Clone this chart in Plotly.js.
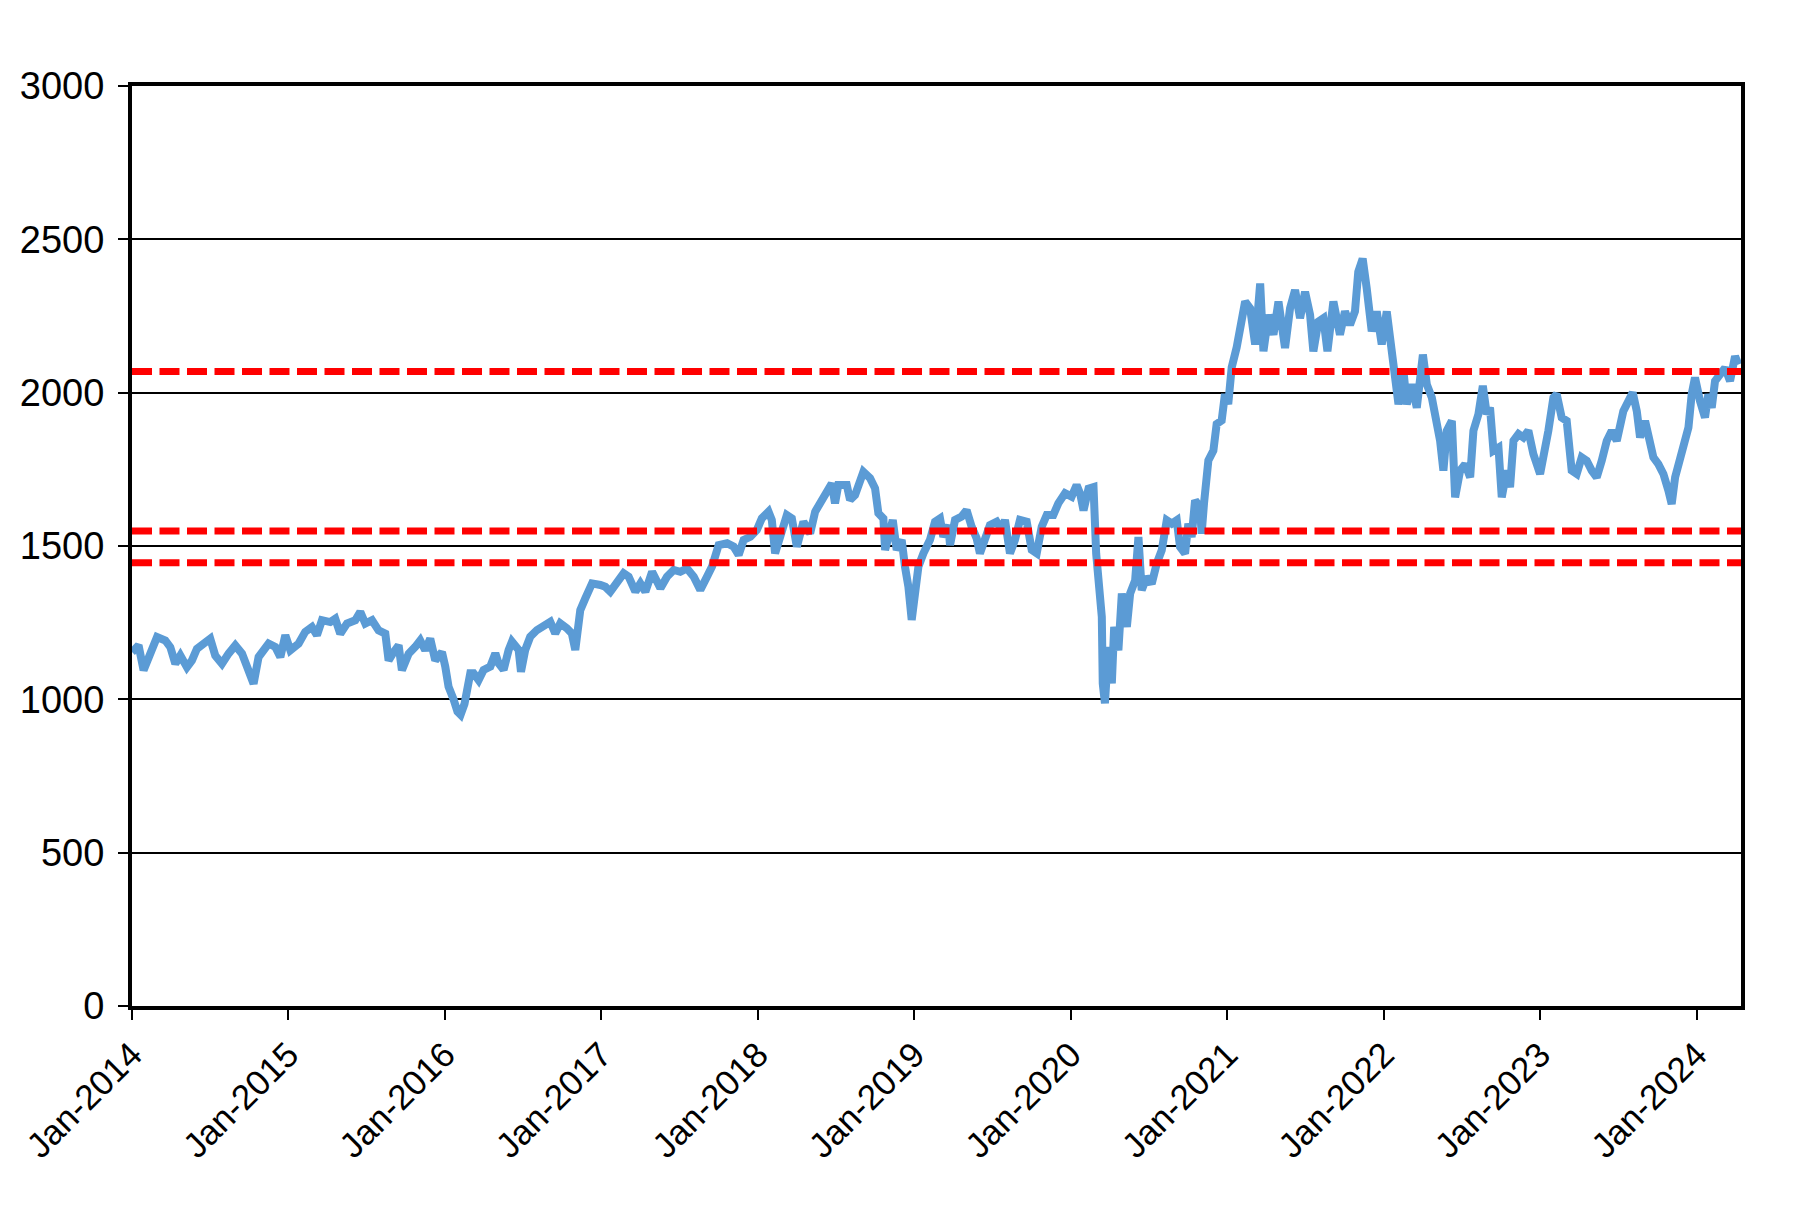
<!DOCTYPE html>
<html>
<head>
<meta charset="utf-8">
<script src="https://cdn.plot.ly/plotly-3.0.1.min.js"></script>
<style>html,body{margin:0;padding:0;background:#fff;}#chart{width:1797px;height:1208px;}</style>
</head>
<body>
<div id="chart"></div>
<script>
// Dates as decimal years
const years = [
2014.000,2014.042,2014.074,2014.106,2014.160,2014.213,2014.245,2014.277,2014.309,2014.351,2014.383,2014.415,2014.468,2014.500,2014.532,2014.575,2014.617,2014.660,2014.703,2014.745,2014.777,2014.809,2014.873,2014.916,2014.948,2014.980,
2015.012,2015.065,2015.107,2015.150,2015.182,2015.214,2015.267,2015.299,2015.331,2015.374,2015.427,2015.459,2015.491,2015.534,2015.576,2015.619,2015.640,2015.672,2015.704,2015.725,2015.768,2015.810,2015.842,2015.874,2015.906,2015.938,2015.981,
2016.002,2016.023,2016.055,2016.080,2016.100,2016.125,2016.162,2016.183,2016.215,2016.247,2016.290,2016.322,2016.343,2016.375,2016.407,2016.428,2016.471,2016.486,2016.513,2016.545,2016.588,2016.631,2016.673,2016.705,2016.737,2016.779,2016.811,2016.833,2016.865,2016.897,2016.940,2016.993,
2017.025,2017.057,2017.100,2017.142,2017.174,2017.217,2017.249,2017.281,2017.324,2017.377,2017.419,2017.462,2017.504,2017.547,2017.590,2017.632,2017.675,2017.707,2017.749,2017.803,2017.845,2017.877,2017.909,2017.952,2017.993,
2018.025,2018.068,2018.089,2018.110,2018.142,2018.185,2018.217,2018.249,2018.291,2018.334,2018.366,2018.408,2018.451,2018.472,2018.493,2018.514,2018.568,2018.589,2018.621,2018.653,2018.674,2018.717,2018.749,2018.770,2018.802,2018.813,2018.834,2018.862,2018.887,2018.919,2018.940,2018.962,2018.983,
2019.004,2019.026,2019.058,2019.100,2019.132,2019.164,2019.185,2019.217,2019.228,2019.260,2019.302,2019.334,2019.366,2019.398,2019.419,2019.451,2019.483,2019.526,2019.558,2019.579,2019.611,2019.643,2019.675,2019.718,2019.750,2019.782,2019.814,2019.846,2019.888,2019.920,2019.963,
2020.005,2020.037,2020.060,2020.081,2020.113,2020.145,2020.162,2020.183,2020.198,2020.204,2020.218,2020.240,2020.262,2020.277,2020.304,2020.326,2020.358,2020.379,2020.411,2020.432,2020.453,2020.485,2020.517,2020.549,2020.581,2020.613,2020.645,2020.677,2020.698,2020.730,2020.751,2020.772,2020.794,2020.826,2020.836,2020.851,2020.879,2020.911,2020.932,2020.964,2020.985,
2021.006,2021.028,2021.060,2021.081,2021.102,2021.114,2021.146,2021.178,2021.210,2021.231,2021.263,2021.295,2021.327,2021.369,2021.401,2021.433,2021.465,2021.497,2021.529,2021.550,2021.582,2021.614,2021.640,2021.678,2021.720,2021.752,2021.784,2021.816,2021.837,2021.865,2021.891,2021.923,2021.955,2021.987,
2022.019,2022.051,2022.073,2022.094,2022.126,2022.147,2022.179,2022.211,2022.250,2022.275,2022.307,2022.339,2022.360,2022.381,2022.403,2022.435,2022.456,2022.488,2022.520,2022.552,2022.573,2022.605,2022.633,2022.658,2022.679,2022.701,2022.733,2022.754,2022.786,2022.807,2022.829,2022.861,2022.892,2022.924,2022.956,2022.999,
2023.031,2023.052,2023.084,2023.105,2023.137,2023.169,2023.201,2023.233,2023.265,2023.297,2023.329,2023.361,2023.393,2023.425,2023.457,2023.489,2023.531,2023.563,2023.591,2023.617,2023.638,2023.670,2023.691,2023.723,2023.755,2023.787,2023.819,2023.840,2023.862,2023.894,2023.925,2023.947,2023.968,2023.989,
2024.021,2024.053,2024.074,2024.096,2024.117,2024.149,2024.181,2024.213,2024.245,2024.266
];
const values = [
1154,1176,1095,1138,1203,1192,1170,1116,1143,1105,1127,1165,1187,1198,1143,1116,1149,1176,1149,1100,1051,1138,1182,1171,1138,1209,
1160,1182,1220,1236,1209,1258,1252,1263,1214,1247,1258,1285,1247,1258,1225,1214,1127,1154,1176,1095,1149,1171,1192,1160,1198,1127,1154,
1107,1041,1000,960,950,985,1085,1085,1063,1096,1107,1150,1117,1096,1161,1188,1161,1090,1161,1204,1226,1237,1253,1215,1248,1232,1215,1161,1291,1329,1378,1373,
1367,1351,1378,1411,1400,1351,1378,1351,1416,1362,1400,1422,1416,1427,1400,1357,1400,1433,1503,1509,1498,1471,1520,1530,1552,
1590,1612,1585,1476,1530,1601,1590,1498,1579,1541,1612,1645,1677,1704,1639,1699,1699,1650,1666,1726,1742,1721,1688,1607,1590,1487,1541,1585,1487,1520,1433,1367,1259,
1335,1433,1476,1520,1579,1590,1530,1568,1503,1585,1596,1617,1563,1525,1476,1530,1568,1579,1552,1585,1476,1520,1585,1579,1487,1476,1563,1601,1601,1639,1672,
1661,1699,1670,1616,1687,1692,1475,1323,1269,1052,987,1171,1052,1236,1160,1345,1236,1345,1388,1529,1356,1399,1377,1443,1486,1584,1573,1584,1497,1475,1573,1529,1649,1627,1540,1638,1779,1811,1898,1909,1996,
1963,2082,2148,2202,2289,2297,2275,2157,2356,2135,2254,2189,2297,2146,2275,2335,2243,2329,2254,2135,2232,2243,2135,2297,2189,2265,2221,2265,2394,2437,2340,2200,2265,2157,
2265,2124,2005,1962,2070,1962,2027,1951,2124,2027,1984,1897,1843,1746,1876,1908,1659,1746,1767,1724,1876,1930,2022,1930,1951,1811,1821,1659,1746,1692,1843,1865,1854,1876,1800,1735,
1811,1876,1984,1995,1919,1908,1746,1735,1789,1778,1746,1724,1778,1843,1876,1843,1940,1973,2000,1940,1854,1908,1865,1789,1767,1735,1681,1637,1724,1789,1843,1886,1995,2049,
1973,1919,1995,1951,2038,2060,2081,2038,2119,2092
];
// Horizontal reference levels (red dashed lines)
const levels = [2069, 1549, 1445];
// Axis
const xStart = 2014.0, xEnd = 2024.283;
const tickYears = [2014,2015,2016,2017,2018,2019,2020,2021,2022,2023,2024];
const tickLabels = ["Jan-2014","Jan-2015","Jan-2016","Jan-2017","Jan-2018","Jan-2019","Jan-2020","Jan-2021","Jan-2022","Jan-2023","Jan-2024"];
const yTicks = [0,500,1000,1500,2000,2500,3000];

const traces = [{
  x: years, y: values, type: 'scatter', mode: 'lines',
  line: {color: '#5B9BD5', width: 8}, hoverinfo: 'skip', showlegend: false
}];
levels.forEach(v => traces.push({
  x: [xStart, xEnd], y: [v, v], type: 'scatter', mode: 'lines',
  line: {color: '#FF0000', width: 7, dash: '20px,7.5px'}, hoverinfo: 'skip', showlegend: false
}));

const font = {family: '"Liberation Sans", Arial, sans-serif', size: 38, color: '#000'};
const xfont = {family: '"Liberation Sans", Arial, sans-serif', size: 35, color: '#000'};
const layout = {
  width: 1797, height: 1208,
  margin: {l: 132, r: 56, t: 86, b: 202, pad: 0},
  paper_bgcolor: '#fff', plot_bgcolor: '#fff',
  showlegend: false,
  font: font,
  xaxis: {
    type: 'linear', range: [xStart, xEnd],
    tickmode: 'array', tickvals: tickYears, ticktext: tickLabels,
    tickangle: -45, ticks: 'outside', ticklen: 10, tickwidth: 2, tickcolor: '#000',
    showgrid: false, zeroline: false,
    showline: true, linecolor: '#000', linewidth: 4, mirror: true,
    tickfont: xfont
  },
  yaxis: {
    range: [0, 3000], tickmode: 'array', tickvals: yTicks,
    ticks: 'outside', ticklen: 10, tickwidth: 2, tickcolor: '#000',
    showgrid: true, gridcolor: '#000', gridwidth: 2, zeroline: false,
    showline: true, linecolor: '#000', linewidth: 4, mirror: true,
    tickfont: font, ticklabelstandoff: 6
  }
};
Plotly.newPlot('chart', traces, layout, {displayModeBar: false, staticPlot: true});
</script>
</body>
</html>
